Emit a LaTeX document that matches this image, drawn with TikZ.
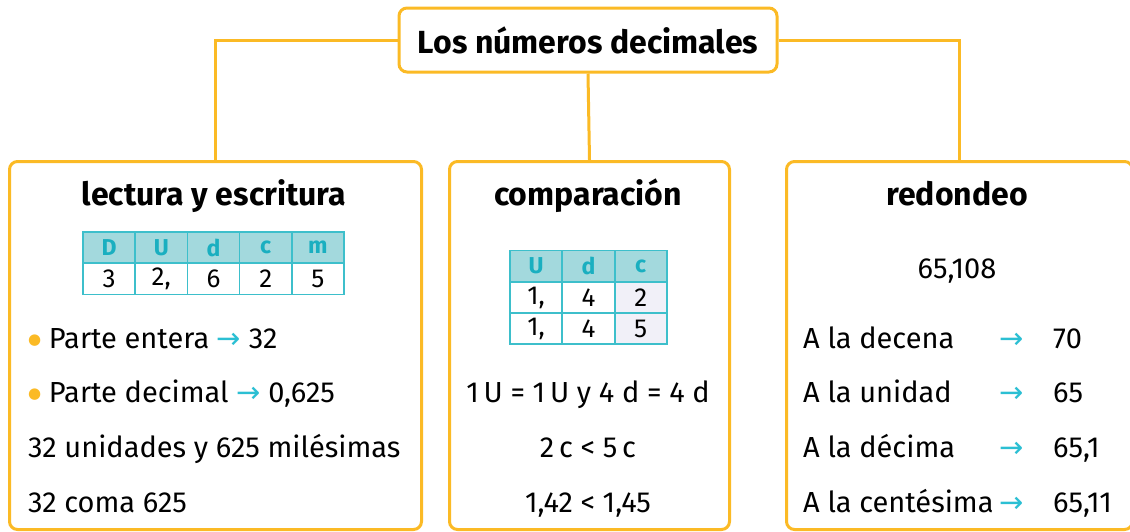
\documentclass[tikz,border=0pt]{standalone}
\usepackage{fontspec}
\setmainfont{Fira Sans}
\newfontfamily\symfont{DejaVu Sans}
\usetikzlibrary{positioning}

\definecolor{gold}{HTML}{FBBA25}
\definecolor{tabline}{HTML}{3DBFCB}
\definecolor{tabhead}{HTML}{A3D9DD}
\definecolor{tabtext}{HTML}{1AAFC0}
\definecolor{lilac}{HTML}{F1F0F8}
\definecolor{arrowcyan}{HTML}{2BBFD3}

\newcommand{\arr}{{\symfont\color{arrowcyan}→}}
\newcommand{\dotitem}{\raisebox{4pt}{\symfont\fontsize{15}{15}\selectfont\color{gold}●}}

\tikzset{
  box/.style={draw=gold, line width=3pt, rounded corners=8pt, fill=white},
  link/.style={draw=gold, line width=3pt},
  heading/.style={font=\fontsize{32}{36}\selectfont\bfseries, anchor=base, inner sep=0pt},
  txt/.style={font=\fontsize{29}{34}\selectfont, anchor=base west, inner sep=0pt},
  ctxt/.style={font=\fontsize{29}{34}\selectfont, anchor=base, inner sep=0pt},
  headcell/.style={draw=tabline, line width=1.5pt, fill=tabhead, text=tabtext,
    font=\fontsize{23}{28}\selectfont\bfseries, minimum width=52pt, minimum height=31pt, inner sep=0pt},
  cell/.style={draw=tabline, line width=1.5pt, fill=white,
    font=\fontsize{26}{30}\selectfont, minimum width=52pt, minimum height=31pt, inner sep=0pt},
}

\begin{document}
\begin{tikzpicture}[x=1pt,y=-1pt]
  \useasboundingbox (0,0) rectangle (1130,531);

  % the three boxes
  \node[box, minimum width=412pt, minimum height=368pt, anchor=north west] (lectura) at (8,160) {};
  \node[box, minimum width=280pt, minimum height=368pt, anchor=north west] (comparacion) at (448,160) {};
  \node[box, minimum width=346pt, minimum height=368pt, anchor=north west] (redondeo) at (785,160) {};

  % title box
  \node[box, minimum width=378pt, minimum height=64pt, font=\fontsize{32}{36}\selectfont\bfseries] (title) at (588,40) {Los números decimales};

  % connectors
  \draw[link] (title.west) -| (lectura.north);
  \draw[link] (title.east) -| (redondeo.north);
  \draw[link] (title.south) -- (comparacion.north);

  % lectura y escritura
  \node[heading] (lhead) at (214,205) {lectura y escritura};
  \foreach \h [count=\i] in {D,U,d,c,m}
    \node[headcell] (lh\i) at ({83+52.2*(\i-0.5)},247.5) {\h};
  \foreach \v [count=\i] in {3,{2,},6,2,5}
    \node[cell] (ld\i) at ({83+52.2*(\i-0.5)},279) {\v};
  \node[txt] (entera) at (28,348) {\dotitem\ Parte entera \arr\ 32};
  \node[txt] (decimal) at (28,402) {\dotitem\ Parte decimal \arr\ 0,625};
  \node[txt] (unidades) at (28,457) {32 unidades y 625 milésimas};
  \node[txt] (coma) at (28,512) {32 coma 625};

  % comparacion
  \node[heading] (chead) at (588,205) {comparación};
  \foreach \h [count=\i] in {U,d,c}
    \node[headcell] (ch\i) at ({510+52.3*(\i-0.5)},266) {\h};
  \foreach \v [count=\i] in {{1,},4}
    \node[cell] (ca\i) at ({510+52.3*(\i-0.5)},297.5) {\v};
  \foreach \v [count=\i] in {{1,},4}
    \node[cell] (cb\i) at ({510+52.3*(\i-0.5)},328.5) {\v};
  \node[cell, fill=lilac] (ca3) at ({510+52.3*2.5},297.5) {2};
  \node[cell, fill=lilac] (cb3) at ({510+52.3*2.5},328.5) {5};
  \node[ctxt] (igual) at (588,402) {1\,U = 1\,U y 4 d = 4 d};
  \node[ctxt] (menor) at (588,457) {2\,c < 5\,c};
  \node[ctxt] (result) at (588,512) {1,42 < 1,45};

  % redondeo
  \node[heading] (rhead) at (957,205) {redondeo};
  \node[ctxt] (numero) at (957,278) {65,108};
  \foreach \lab/\val/\y [count=\i] in {A la decena/70/348, A la unidad/65/402, A la décima/{65,1}/457, A la centésima/{65,11}/512} {
    \node[txt] (rl\i) at (803,\y) {\lab};
    \node[ctxt] (ra\i) at (1012,\y) {\arr};
    \node[txt] (rv\i) at (1053,\y) {\val};
  }
\end{tikzpicture}
\end{document}
